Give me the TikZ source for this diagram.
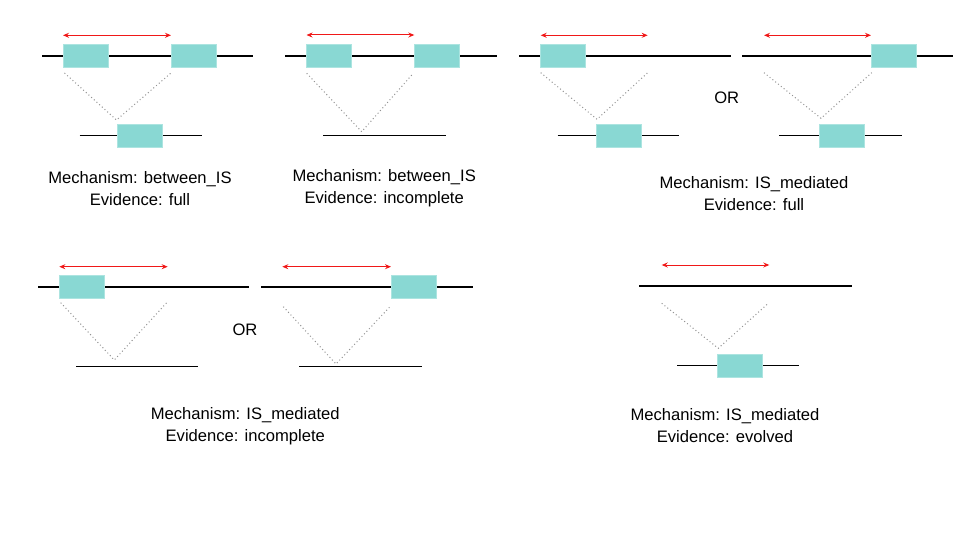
\documentclass[tikz,border=0pt]{standalone}
\usepackage{fontspec}
\setmainfont{Liberation Sans}
\usetikzlibrary{arrows.meta}
\definecolor{boxteal}{HTML}{89D8D3}
\definecolor{arrred}{HTML}{F01818}
\tikzset{
  gbox/.style={fill=boxteal, draw=boxteal!70!white, line width=0.6pt, minimum width=45pt, minimum height=23pt, inner sep=0pt, outer sep=0pt},
  dna/.style={draw=black, line width=1.1pt},
  span/.style={draw=arrred, line width=1pt, {Stealth[length=6pt,width=5pt]}-{Stealth[length=6pt,width=5pt]}},
  dots/.style={draw=gray!85, line width=1pt, dash pattern=on 1pt off 2.6pt},
  lbl/.style={align=center, font=\fontsize{16.6}{22}\selectfont, inner sep=0pt},
  ortxt/.style={font=\fontsize{16.6}{18}\selectfont, inner sep=0pt}
}
\begin{document}
\begin{tikzpicture}[x=1pt,y=-1pt]
\useasboundingbox (0,0) rectangle (960,540);
% ---------- Panel 1 ----------
\coordinate (p1l) at (42,56); \coordinate (p1r) at (253,56);
\draw[dna] (p1l) -- (p1r);
\coordinate (p1bl) at (79.5,135.3); \coordinate (p1br) at (201.5,135.3);
\draw[dna] (p1bl) -- (p1br);
\coordinate (p1d1) at (64.5,73); \coordinate (p1apex) at (116.5,120); \coordinate (p1d2) at (171,73);
\draw[dots] (p1d1) -- (p1apex) -- (p1d2);
\node[gbox] (a1) at (85.5,56) {};
\node[gbox] (b1) at (193.5,56) {};
\node[gbox] (c1) at (139.8,135.7) {};
\coordinate (p1as) at (63,35.3); \coordinate (p1ae) at (171,35.3);
\draw[span] (p1as) -- (p1ae);
\node[lbl] (t1) at (140,188.8) {Mechanism: between\_IS\\Evidence: full};
% ---------- Panel 2 ----------
\coordinate (p2l) at (285,56); \coordinate (p2r) at (497,56);
\draw[dna] (p2l) -- (p2r);
\coordinate (p2bl) at (323.3,135.3); \coordinate (p2br) at (445.7,135.3);
\draw[dna] (p2bl) -- (p2br);
\coordinate (p2d1) at (306.7,73.3); \coordinate (p2apex) at (361.7,131.7); \coordinate (p2d2) at (413.3,73.3);
\draw[dots] (p2d1) -- (p2apex) -- (p2d2);
\node[gbox] (a2) at (328.5,56) {};
\node[gbox] (b2) at (436.8,56) {};
\coordinate (p2as) at (306.5,35); \coordinate (p2ae) at (414.3,35);
\draw[span] (p2as) -- (p2ae);
\node[lbl] (t2) at (384.2,188.5) {Mechanism: between\_IS\\Evidence: incomplete};
% ---------- Panel 3 ----------
\coordinate (p3l) at (519.3,56); \coordinate (p3r) at (730.7,56);
\draw[dna] (p3l) -- (p3r);
\coordinate (p3bl) at (557.7,135.3); \coordinate (p3br) at (679.3,135.3);
\draw[dna] (p3bl) -- (p3br);
\coordinate (p3d1) at (540.7,72.7); \coordinate (p3apex) at (597,119.3); \coordinate (p3d2) at (647.7,72.7);
\draw[dots] (p3d1) -- (p3apex) -- (p3d2);
\node[gbox] (a3) at (562.5,56) {};
\node[gbox] (c3) at (619.2,135.7) {};
\coordinate (p3as) at (540.7,35.3); \coordinate (p3ae) at (647.7,35.3);
\draw[span] (p3as) -- (p3ae);
% ---------- Panel 4 ----------
\coordinate (p4l) at (742.3,56); \coordinate (p4r) at (953.3,56);
\draw[dna] (p4l) -- (p4r);
\coordinate (p4bl) at (779.3,135.3); \coordinate (p4br) at (902.3,135.3);
\draw[dna] (p4bl) -- (p4br);
\coordinate (p4d1) at (764,72.7); \coordinate (p4apex) at (821,118.3); \coordinate (p4d2) at (871.7,72.7);
\draw[dots] (p4d1) -- (p4apex) -- (p4d2);
\node[gbox] (b4) at (894.2,56) {};
\node[gbox] (c4) at (841.8,135.7) {};
\coordinate (p4as) at (764,35.3); \coordinate (p4ae) at (871,35.3);
\draw[span] (p4as) -- (p4ae);
\node[ortxt] (or1) at (726.7,97.8) {OR};
\node[lbl] (t34) at (754,193.3) {Mechanism: IS\_mediated\\Evidence: full};
% ---------- Panel 5 ----------
\coordinate (p5l) at (38.3,287); \coordinate (p5r) at (249.3,287);
\draw[dna] (p5l) -- (p5r);
\coordinate (p5bl) at (76,366.7); \coordinate (p5br) at (198.3,366.7);
\draw[dna] (p5bl) -- (p5br);
\coordinate (p5d1) at (60.7,302.7); \coordinate (p5apex) at (114.3,360); \coordinate (p5d2) at (166.7,302.7);
\draw[dots] (p5d1) -- (p5apex) -- (p5d2);
\node[gbox] (a5) at (81.5,287) {};
\coordinate (p5as) at (59.3,266.7); \coordinate (p5ae) at (167.7,266.7);
\draw[span] (p5as) -- (p5ae);
% ---------- Panel 6 ----------
\coordinate (p6l) at (261.3,287); \coordinate (p6r) at (472.7,287);
\draw[dna] (p6l) -- (p6r);
\coordinate (p6bl) at (299.3,366.7); \coordinate (p6br) at (421.7,366.7);
\draw[dna] (p6bl) -- (p6br);
\coordinate (p6d1) at (283.3,306.7); \coordinate (p6apex) at (336,364); \coordinate (p6d2) at (390,306.7);
\draw[dots] (p6d1) -- (p6apex) -- (p6d2);
\node[gbox] (b6) at (413.5,287) {};
\coordinate (p6as) at (282.3,266.7); \coordinate (p6ae) at (391,266.7);
\draw[span] (p6as) -- (p6ae);
\node[ortxt] (or2) at (245,329.5) {OR};
\node[lbl] (t56) at (245.3,426.3) {Mechanism: IS\_mediated\\Evidence: incomplete};
% ---------- Panel 7 ----------
\coordinate (p7l) at (639.3,286); \coordinate (p7r) at (851.7,286);
\draw[dna] (p7l) -- (p7r);
\coordinate (p7bl) at (677.3,365.3); \coordinate (p7br) at (799.3,365.3);
\draw[dna] (p7bl) -- (p7br);
\coordinate (p7d1) at (661.7,303.3); \coordinate (p7apex) at (718.3,348.3); \coordinate (p7d2) at (768.3,303.3);
\draw[dots] (p7d1) -- (p7apex) -- (p7d2);
\node[gbox] (c7) at (739.5,365.7) {};
\coordinate (p7as) at (661.7,265); \coordinate (p7ae) at (769.3,265);
\draw[span] (p7as) -- (p7ae);
\node[lbl] (t7) at (725,425.8) {Mechanism: IS\_mediated\\Evidence: evolved};
\end{tikzpicture}
\end{document}
